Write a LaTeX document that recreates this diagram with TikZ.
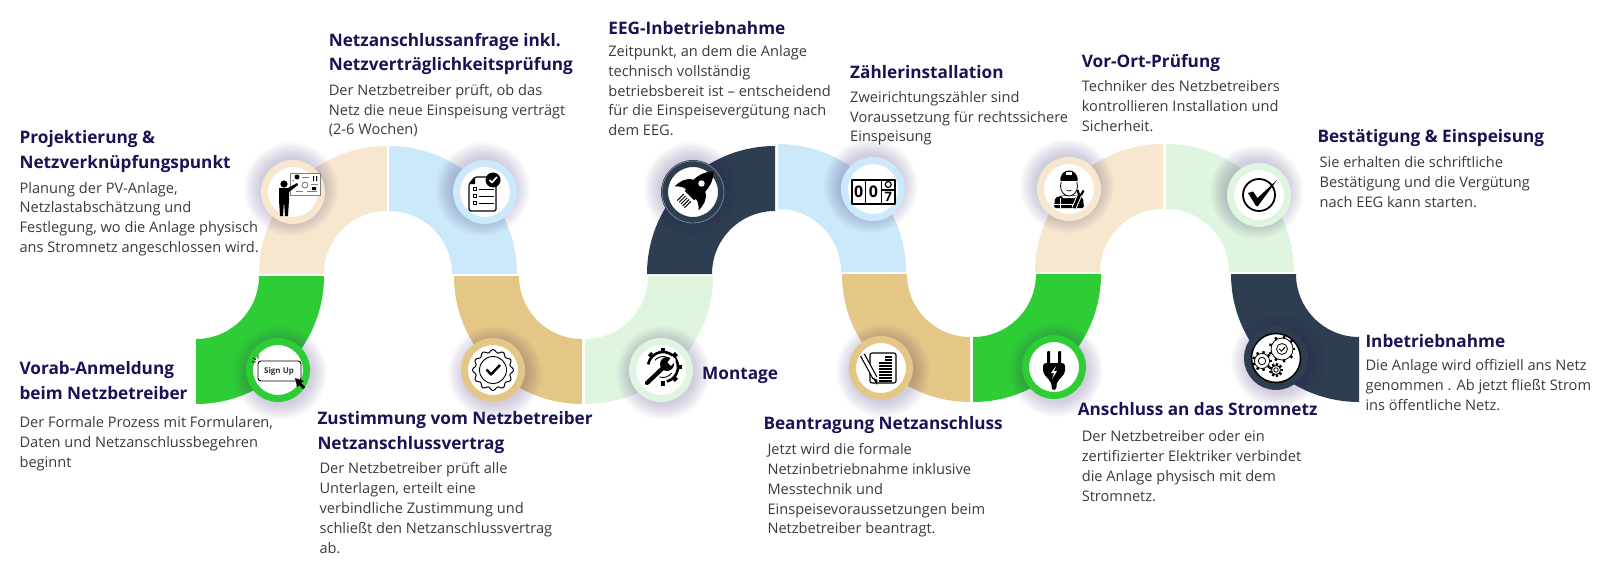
\documentclass[tikz,border=0pt]{standalone}
\usepackage{fontspec}
\setmainfont{Open Sans}
\newfontfamily\headfont{Open Sans}[BoldFont={Open Sans Bold}]
\definecolor{wheatc}{HTML}{F7E7CE}
\definecolor{skyc}{HTML}{CBE9FA}
\definecolor{greenc}{HTML}{2ECC35}
\definecolor{tanc}{HTML}{E4C786}
\definecolor{mintc}{HTML}{DFF5E0}
\definecolor{darkc}{HTML}{2C3E50}
\definecolor{glowc}{HTML}{3A2A70}
\definecolor{headc}{HTML}{1B1154}
\definecolor{bodyc}{HTML}{3A3A3A}
\tikzset{
  stephead/.style={anchor=north west,align=left,inner sep=0pt,text=headc,
    font=\headfont\bfseries\fontsize{17.2}{24.6}\selectfont},
  stepbody/.style={anchor=north west,align=left,inner sep=0pt,text=bodyc,
    font=\fontsize{14.6}{19.9}\selectfont},
  disc/.style={circle,fill=white,line width=7pt,minimum size=57pt,inner sep=0pt},
  thinline/.style={line width=0.8pt,black},
}
\newcommand{\archseg}[4]{\fill[#1] (#2,#3) ++(#4:128) arc (#4:#4+90:128) -- ++(#4+90:-65) arc (#4+90:#4:63) -- cycle;}
\begin{document}
\begin{tikzpicture}[x=1pt,y=1pt,>=stealth,line join=round]
\useasboundingbox (0,0) rectangle (1600,-567);
% the band
\archseg{greenc}{196}{-276}{-90}
\archseg{wheatc}{387}{-274}{90}
\archseg{skyc}{389}{-274}{0}
\archseg{tanc}{582}{-276}{180}
\archseg{mintc}{585}{-276}{-90}
\archseg{darkc}{775}{-274}{90}
\archseg{skyc}{778}{-272}{0}
\archseg{tanc}{970}{-274}{180}
\archseg{greenc}{973}{-274}{-90}
\archseg{wheatc}{1163}{-272}{90}
\archseg{mintc}{1166}{-272}{0}
\archseg{darkc}{1359}{-274}{180}
% discs
\foreach \nm/\cx/\cy/\col/\gd in {planung/293/-192/wheatc/3,liste/485/-192/skyc/3,signup/278/-370/greenc/-3,
    badge/493/-370/tanc/-3,rocket/693/-192/darkc/3,counter/873/-189/skyc/3,tool/661/-370/mintc/-3,
    docpen/881/-368/tanc/-3,worker/1069/-189/wheatc/3,tick/1259/-195/mintc/3,plug/1054/-367/greenc/-3,gears/1276/-358/darkc/-3}{
  \foreach \gr in {32,33.5,...,47}
    \fill[glowc,opacity=0.024] (\cx-\gd*0.7,\cy+\gd) circle (\gr);
  \node[disc,draw=\col] (\nm) at (\cx,\cy) {};
}
\draw[white,opacity=0.6,line width=0.4pt] (rocket) circle (31);
% person at the board
\begin{scope}[shift={(planung)}]
  \draw[gray,fill=white,line width=0.8pt] (-3,19) rectangle (27,-3);
  \fill (4,15) circle (2.5);
  \draw[gray,line width=1pt] (12,7) circle (3);
  \draw[gray,line width=0.7pt] (-1,12) -- (1,12) (9,15) -- (16,15) (18,8) -- (25,8) (3,1) -- (10,1) (14,1) -- (24,1);
  \fill (20,16) rectangle (21,11) (23,16) rectangle (24,11) (19,5) rectangle (23,2);
  \fill (-9,8) circle (3.6);
  \fill (-14,4) -- (-5,4) -- (4,9) -- (5,7) -- (-4,0) -- (-4,-8) -- (-5,-24) -- (-8,-24) -- (-9,-9) -- (-10,-24) -- (-13,-24) -- (-14,-8) -- cycle;
\end{scope}
% checklist
\begin{scope}[shift={(liste)}]
  \draw[line width=1.1pt,fill=white,rounded corners=1.5pt] (-10,15) -- (11,15) -- (11,-19) -- (-16,-19) -- (-16,8) -- cycle;
  \fill (-16,8) -- (-10,15) -- (-10,8) -- cycle;
  \foreach \ly in {3,-4,-11}{
    \draw[line width=0.7pt] (-11.5,\ly+1.5) rectangle (-8.5,\ly-1.5);
    \draw[line width=0.7pt] (-6,\ly) -- (9,\ly);
  }
  \fill (8,12) circle (7.5);
  \draw[white,line width=1.6pt] (4.5,12) -- (7,9.5) -- (12,15);
\end{scope}
% sign up button
\begin{scope}[shift={(signup)}]
  \draw[line width=0.9pt,rounded corners=3pt] (-20,9) rectangle (23,-11);
  \node[font=\bfseries\fontsize{8}{8}\selectfont,text=black!80] (signuptext) at (1,-1) {Sign Up};
  \draw[line width=0.6pt] (-25,12) -- (-22,10) (-20,15) -- (-20,11) (-26,8) -- (-22,8);
  \fill (17,-8) -- (26,-11) -- (23,-13) -- (27,-17) -- (25,-19) -- (21,-15) -- (19,-17) -- cycle;
\end{scope}
% badge
\begin{scope}[shift={(badge)}]
  \draw[line width=1pt,smooth,samples=145,domain=0:360]
    plot ({(19+1.4*cos(12*\x))*cos(\x)},{(19+1.4*cos(12*\x))*sin(\x)}) -- cycle;
  \draw[line width=0.9pt] (0,0) circle (13.5);
  \draw[line width=2.4pt] (-6.5,0.5) -- (-2,-4.5) -- (7,5);
\end{scope}
% rocket
\begin{scope}[shift={(rocket)},rotate=-45]
  \fill (0,29) .. controls (9,20) and (10,8) .. (6.5,-5) -- (-6.5,-5) .. controls (-10,8) and (-9,20) .. (0,29) -- cycle;
  \fill (-8,9) .. controls (-15,6) and (-17,-2) .. (-17,-9) .. controls (-13,-5) and (-10,-3) .. (-7,-3) -- cycle;
  \fill (8,9) .. controls (15,6) and (17,-2) .. (17,-9) .. controls (13,-5) and (10,-3) .. (7,-3) -- cycle;
  \fill[white] (0,12) circle (3.2);
  \foreach \fx in {-5,-2.5,0,2.5,5}
    \draw[line width=1pt] (\fx,-8) -- (\fx,-17);
\end{scope}
% counter
\begin{scope}[shift={(counter)}]
  \draw[line width=1.1pt] (-21,9) rectangle (22,-15);
  \draw[line width=1.1pt] (-7.5,9) -- (-7.5,-15) (8.5,9) -- (8.5,-15) (8.5,-1) -- (22,-1);
  \node[font=\bfseries\fontsize{16}{16}\selectfont] (digita) at (-14.2,-3) {0};
  \node[font=\bfseries\fontsize{16}{16}\selectfont] (digitb) at (0.5,-3) {0};
  \node[font=\bfseries\fontsize{13}{13}\selectfont] (digitc) at (15.2,-8) {7};
  \draw[line width=1.2pt] (15.2,4.5) circle (3);
\end{scope}
% wrench in gear
\begin{scope}[shift={(tool)}]
  \foreach \ga in {-45,0,45,90,135,-90}
    \draw[line width=4.5pt,shift={(2,3)}] (\ga:14) -- (\ga:19);
  \draw[line width=2.6pt,shift={(2,3)}] (170:15) arc (170:-75:15);
  \draw[line width=0.9pt,shift={(2,3)}] (140:10.5) arc (140:35:10.5) (-35:10.5) arc (-35:-110:10.5);
  \draw[white,line width=7.5pt] (-14,-13) -- (7,7);
  \draw[line width=4.2pt,line cap=round] (-14,-13) -- (5,5);
  \fill (6,6) circle (7);
  \fill[white] (6.5,7.5) -- (10,4) -- (15,10) -- (11,14) -- cycle;
\end{scope}
% document and pen
\begin{scope}[shift={(docpen)}]
  \draw[line width=1.1pt,rounded corners=2pt,fill=white] (-11,15) rectangle (15,-15);
  \foreach \ly in {11,8}
    \draw[line width=1.5pt] (4,\ly) -- (11,\ly);
  \foreach \ly in {5,2,...,-13}
    \draw[line width=1.5pt] (-2,\ly) -- (11,\ly);
  \draw[line width=5.4pt,black] (-18.5,13) -- (-6,-10);
  \draw[line width=3pt,white] (-18.5,13) -- (-6,-10);
  \fill (-8.5,-9.5) -- (-3.5,-12) -- (-4,-17) -- cycle;
\end{scope}
% mechanic
\begin{scope}[shift={(worker)}]
  \fill[rounded corners=1.5pt] (-15,-19) -- (-14,-9) -- (-6,-6) -- (6,-6) -- (14,-9) -- (15,-19) -- cycle;
  \fill[white] (-8,-6.5) -- (8,-6.5) -- (6,-9) -- (-6,-9) -- cycle;
  \draw[white,line width=0.8pt] (-9,-9) -- (-9,-19) (-15,-15.5) -- (4,-15.5);
  \draw[thinline,fill=white] (0,3) ellipse (8.5 and 10);
  \fill (-8.5,8) .. controls (-10,22) and (10,22) .. (8.5,8) -- cycle;
  \draw[white,line width=0.6pt] (-8.5,8) -- (8.5,8);
  \fill[white] (-3,14) rectangle (3,17);
  \draw[line width=0.6pt] (-2.5,-1) .. controls (-1,-2.5) and (1,-2.5) .. (2.5,-1);
  \draw[white,line width=5pt] (5,-19) -- (11,-5);
  \draw[line width=3pt] (5,-19) -- (11,-5);
  \draw[line width=2.2pt] (10,-6) -- (8.5,-1) (12,-6) -- (14.5,-1.5);
\end{scope}
% tick
\begin{scope}[shift={(tick)}]
  \draw[line width=1.8pt] (0,0) circle (16);
  \fill (-11,2) -- (-6,3.5) -- (-1.5,-3) -- (18,15) -- (-1,-11) -- (-3,-11) -- cycle;
\end{scope}
% plug
\begin{scope}[shift={(plug)}]
  \fill[rounded corners=1pt] (-7,16) rectangle (-4,3) (4,16) rectangle (7,3);
  \fill[rounded corners=3pt] (-11,4) -- (11,4) -- (11,-6) -- (4,-14) -- (2.5,-15) -- (2.5,-23) -- (-2.5,-23) -- (-2.5,-15) -- (-4,-14) -- (-11,-6) -- cycle;
  \fill[white] (2,1) -- (-3,-6) -- (0,-6) -- (-2,-12) -- (3,-4) -- (0,-4) -- cycle;
\end{scope}
% gears
\begin{scope}[shift={(gears)}]
  \draw[line width=1.5pt] (0,0) circle (24.5);
  \foreach \gx/\gy/\gr in {6/9/11,-14/-3/7.5,0/-12/4.5}{
    \foreach \ta in {0,40,...,320}
      \draw[line width=2.4pt] (\gx,\gy) ++(\ta:\gr) -- ++(\ta:2.4);
    \draw[line width=0.8pt,fill=white] (\gx,\gy) circle (\gr);
    \draw[line width=0.8pt] (\gx,\gy) circle (\gr/2);
  }
  \draw[line width=0.9pt] (3.2,9) -- (5.5,6.8) -- (9,11);
\end{scope}
% texts
\node[stephead] (projhead) at (19.4,-130.7) {Projektierung \&\\Netzverknüpfungspunkt};
\node[stepbody] (projbody) at (19.4,-181.8) {Planung der PV-Anlage,\\Netzlastabschätzung und\\Festlegung, wo die Anlage physisch\\ans Stromnetz angeschlossen wird.};
\node[stephead] (anfraghead) at (328.6,-32.8) {Netzanschlussanfrage inkl.\\Netzverträglichkeitsprüfung};
\node[stepbody] (anfragbody) at (328.6,-83.8) {Der Netzbetreiber prüft, ob das\\Netz die neue Einspeisung verträgt\\(2-6 Wochen)};
\node[stephead] (eeghead) at (608.2,-21.6) {EEG-Inbetriebnahme};
\node[stepbody] (eegbody) at (608.2,-45) {Zeitpunkt, an dem die Anlage\\technisch vollständig\\betriebsbereit ist – entscheidend\\für die Einspeisevergütung nach\\dem EEG.};
\node[stephead] (zaehlhead) at (850,-65.4) {Zählerinstallation};
\node[stepbody] (zaehlbody) at (850,-90.9) {Zweirichtungszähler sind\\Voraussetzung für rechtssichere\\Einspeisung};
\node[stephead] (vorhead) at (1081.6,-54.2) {Vor-Ort-Prüfung};
\node[stepbody] (vorbody) at (1081.6,-80.7) {Techniker des Netzbetreibers\\kontrollieren Installation und\\Sicherheit.};
\node[stephead] (besthead) at (1317.3,-129.7) {Bestätigung \& Einspeisung};
\node[stepbody] (bestbody) at (1319.4,-156.2) {Sie erhalten die schriftliche\\Bestätigung und die Vergütung\\nach EEG kann starten.};
\node[stephead] (vorabhead) at (19.4,-361.3) {Vorab-Anmeldung\\beim Netzbetreiber};
\node[stepbody] (vorabbody) at (19.4,-416.4) {Der Formale Prozess mit Formularen,\\Daten und Netzanschlussbegehren\\beginnt};
\node[stephead] (zusthead) at (317.3,-411.3) {Zustimmung vom Netzbetreiber\\Netzanschlussvertrag};
\node[stepbody] (zustbody) at (319.4,-462.4) {Der Netzbetreiber prüft alle\\Unterlagen, erteilt eine\\verbindliche Zustimmung und\\schließt den Netzanschlussvertrag\\ab.};
\node[stephead] (monthead) at (702,-367.5) {Montage};
\node[stephead] (beanthead) at (763.3,-416.4) {Beantragung Netzanschluss};
\node[stepbody] (beantbody) at (767.3,-443) {Jetzt wird die formale\\Netzinbetriebnahme inklusive\\Messtechnik und\\Einspeisevoraussetzungen beim\\Netzbetreiber beantragt.};
\node[stephead] (anschlhead) at (1077.6,-402.2) {Anschluss an das Stromnetz};
\node[stepbody] (anschlbody) at (1081.6,-430.7) {Der Netzbetreiber oder ein\\zertifizierter Elektriker verbindet\\die Anlage physisch mit dem\\Stromnetz.};
\node[stephead] (inbhead) at (1365.3,-333.8) {Inbetriebnahme};
\node[stepbody] (inbbody) at (1365.3,-359.3) {Die Anlage wird offiziell ans Netz\\genommen . Ab jetzt fließt Strom\\ins öffentliche Netz.};
\end{tikzpicture}
\end{document}
